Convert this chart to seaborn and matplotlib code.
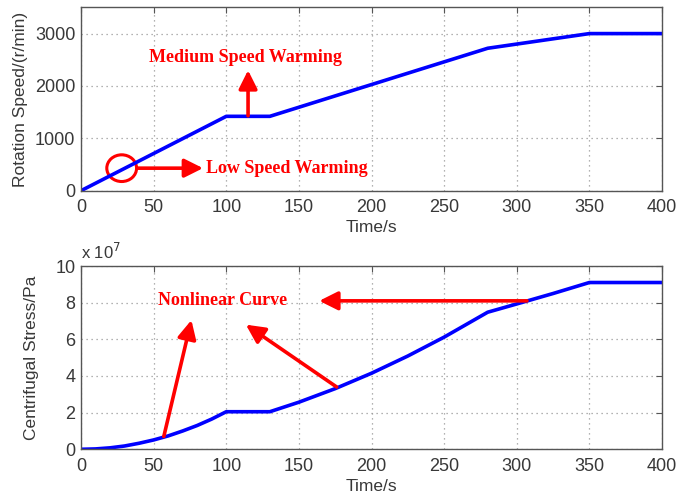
import matplotlib
matplotlib.use("Agg")
import matplotlib.pyplot as plt
from matplotlib.patches import Ellipse
import seaborn as sns
import pandas as pd

# ---- data ----
speed_time = [0, 100, 130, 280, 350, 400]
speed_rpm = [0, 1420, 1420, 2720, 3000, 3000]

stress_time = [0, 10, 20, 30, 40, 50, 60, 70, 80, 90, 100, 130, 150, 175, 200,
               225, 250, 280, 300, 325, 350, 400]
stress_e7 = [0, 0.02, 0.08, 0.18, 0.33, 0.51, 0.73, 1.0, 1.30, 1.65, 2.05, 2.05,
             2.57, 3.31, 4.15, 5.09, 6.12, 7.48, 7.93, 8.50, 9.10, 9.10]

x_ticks = [0, 50, 100, 150, 200, 250, 300, 350, 400]
speed_ticks = [0, 1000, 2000, 3000]
stress_ticks = [0, 2, 4, 6, 8, 10]

sns.set_style("white")
plt.rcParams['font.family'] = ['Liberation Sans', 'DejaVu Sans']

fig = plt.figure(figsize=(6.78, 4.94), dpi=100)
ax1 = fig.add_axes([0.1195, 0.614, 0.8569, 0.371])
ax2 = fig.add_axes([0.1195, 0.0905, 0.8569, 0.371])

df1 = pd.DataFrame({"t": speed_time, "v": speed_rpm})
df2 = pd.DataFrame({"t": stress_time, "v": stress_e7})
sns.lineplot(data=df1, x="t", y="v", ax=ax1, color=(0, 0, 1), lw=2.6)
sns.lineplot(data=df2, x="t", y="v", ax=ax2, color=(0, 0, 1), lw=2.6)

tc = "#383838"
for ax, yt, ylim in [(ax1, speed_ticks, (0, 3500)), (ax2, stress_ticks, (0, 10))]:
    ax.set_xlim(0, 400)
    ax.set_ylim(*ylim)
    ax.set_xticks(x_ticks)
    ax.set_yticks(yt)
    ax.grid(True, linestyle=(0, (1, 3)), color="#999999", lw=0.9)
    ax.tick_params(direction="in", top=True, right=True, length=4, width=0.8,
                   labelsize=13, colors="#555555", labelcolor=tc)
    ax.tick_params(axis="x", pad=6)
    ax.tick_params(axis="y", pad=4)
    for s in ax.spines.values():
        s.set_color("#555555")
        s.set_linewidth(1.0)
    ax.set_xlabel("Time/s", fontsize=12.5, color=tc, labelpad=3)

ax1.set_ylabel("Rotation Speed/(r/min)", fontsize=12.5, color=tc, labelpad=5)
ax2.set_ylabel("Centrifugal Stress/Pa", fontsize=12.5, color=tc, labelpad=12)
ax2.text(0.0, 1.02, r"x 10$^{7}$", transform=ax2.transAxes, fontsize=12,
         color=tc, ha="left", va="bottom")

red = (1, 0, 0)
afont = dict(family=["Liberation Serif", "DejaVu Serif"], fontweight="bold",
             color=red, fontsize=13)
ap = dict(arrowstyle="-|>", color=red, lw=2.6, mutation_scale=28,
          shrinkA=0, shrinkB=0)

# top annotations
ax1.text(113.5, 2540, "Medium Speed Warming", ha="center", va="center", **afont)
ax1.annotate("", xy=(115, 2300), xytext=(115, 1430), arrowprops=ap)
ax1.add_patch(Ellipse((28, 430), 20.5, 510, fill=False, edgecolor=red, lw=2.2))
ax1.annotate("", xy=(84, 430), xytext=(38.5, 430), arrowprops=ap)
ax1.text(86, 430, "Low Speed Warming", ha="left", va="center", **afont)

# bottom annotations
ax2.text(97.5, 8.1, "Nonlinear Curve", ha="center", va="center", **afont)
ax2.annotate("", xy=(76, 7.05), xytext=(57, 0.7), arrowprops=ap)
ax2.annotate("", xy=(113.5, 6.8), xytext=(176, 3.4), arrowprops=ap)
ax2.annotate("", xy=(164, 8.1), xytext=(307, 8.1), arrowprops=ap)

fig.savefig("out.png", dpi=100)
